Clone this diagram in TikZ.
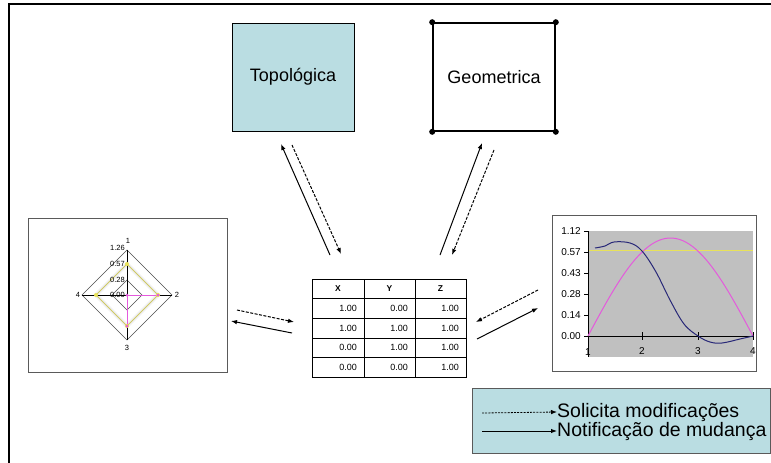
\documentclass[tikz,border=0pt]{standalone}
\usepackage{fontspec}
\setmainfont{Liberation Sans}
\usetikzlibrary{arrows.meta}
\definecolor{lblue}{RGB}{186,221,226}
\definecolor{navyc}{RGB}{40,40,120}
\definecolor{magc}{RGB}{228,90,220}
\definecolor{yelc}{RGB}{232,226,90}
\definecolor{plotgray}{RGB}{192,192,192}
\definecolor{framegray}{RGB}{90,90,90}
\tikzset{
  bigbox/.style={minimum width=122pt,minimum height=108pt,inner sep=0pt,font=\fontsize{18}{20}\selectfont},
  tip/.style={-{Latex[length=6pt,width=4.5pt]}},
  solidarr/.style={tip,line width=1pt},
  dasharr/.style={tip,line width=1pt,dash pattern=on 3pt off 1.5pt},
  cell/.style={font=\fontsize{9}{10}\selectfont,inner sep=0pt},
  small/.style={font=\fontsize{7.5}{8}\selectfont,inner sep=0pt},
  axlab/.style={font=\fontsize{10}{11}\selectfont,inner sep=0pt},
  ydot/.style={circle,fill=yelc,inner sep=0pt,minimum size=4pt},
  mdot/.style={circle,fill=magc,inner sep=0pt,minimum size=3pt},
  cdot/.style={circle,fill=black,inner sep=0pt,minimum size=6pt},
}
\begin{document}
\begin{tikzpicture}[x=1pt,y=-1pt]
\useasboundingbox (0,0) rectangle (771,463);
\fill[white] (0,0) rectangle (771,463);
% outer frame lines
\draw[line width=1.5pt] (9,463) -- (9,4) -- (771,4);

% top boxes
\node[bigbox,draw=black,line width=0.8pt,fill=lblue] (topo) at (293,77) {Topológica};
\node[bigbox,draw=black,line width=1.6pt] (geo) at (494,77) {Geometrica};
\foreach \c in {north west,north east,south west,south east}
  \node[cdot] at (geo.\c) {};

% left chart (radar)
\node[draw=framegray,line width=0.8pt,minimum width=199pt,minimum height=154pt,inner sep=0pt] (radar) at (127.5,295) {};
\coordinate (rc) at (127,295);
\draw[gray!10,line width=4pt] (127,264) -- (158,295) -- (127,326) -- (96,295) -- cycle;
\draw[black!70,line width=0.6pt] (127,250) -- (172,295) -- (127,340) -- (82,295) -- cycle;
\draw[black!70,line width=0.6pt] (127,264) -- (158,295) -- (127,326) -- (96,295) -- cycle;
\draw[black!70,line width=0.6pt] (127,280) -- (142,295) -- (127,310) -- (112,295) -- cycle;
\draw[black,line width=0.6pt] (82,295) -- (172,295);
\draw[black,line width=0.6pt] (127,250) -- (127,340);
\draw[yelc,line width=0.5pt] (127,264) -- (158,295) -- (127,326) -- (96,295) -- cycle;
\draw[magc,line width=0.8pt] (158,295) -- (rc) -- (127,326);
\node[ydot] at (127,264) {};
\node[ydot] at (158,295) {};
\node[ydot] at (127,326) {};
\node[ydot] at (96,295) {};
\node[mdot] at (rc) {};
\node[mdot] at (158,295) {};
\node[mdot] at (127,326) {};
\node[small] (r1) at (128,241) {1};
\node[small] (r2) at (177,295) {2};
\node[small] (r3) at (127,348) {3};
\node[small] (r4) at (78,295) {4};
\node[small,anchor=east] (s1) at (125,248) {1.26};
\node[small,anchor=east] (s2) at (125,264) {0.57};
\node[small,anchor=east] (s3) at (125,280) {0.28};
\node[small,anchor=east] (s4) at (125,295) {0.00};

% right chart
\node[draw=framegray,line width=0.8pt,minimum width=204pt,minimum height=156pt,inner sep=0pt] (curve) at (654,293) {};
\fill[plotgray] (588,231) rectangle (753,357);
\draw[yelc,line width=1pt] (588,250) -- (753,250);
\draw[black,line width=0.7pt] (588,231) -- (588,357);
\draw[black,line width=0.7pt] (588,336) -- (753,336);
\foreach \yy in {231,252,273,294,315,336} \draw[black,line width=0.6pt] (584,\yy) -- (588,\yy);
\foreach \xx in {642,698,753} \draw[black,line width=0.6pt] (\xx,332) -- (\xx,340);
\draw[magc,line width=1pt] plot[domain=0:1,samples=50] ({588+165*\x},{336-98*sin(180*\x)});
\draw[navyc,line width=1pt] plot[smooth,tension=0.6] coordinates {(595,248) (605,246) (614,242) (630,243) (642,251) (656,272) (670,300) (684,324) (698,336) (710,342) (722,343) (740,339) (753,336)};
\node[axlab,anchor=east] (y1) at (581,231) {1.12};
\node[axlab,anchor=east] (y2) at (581,252) {0.57};
\node[axlab,anchor=east] (y3) at (581,273) {0.43};
\node[axlab,anchor=east] (y4) at (581,294) {0.28};
\node[axlab,anchor=east] (y5) at (581,315) {0.14};
\node[axlab,anchor=east] (y6) at (581,336) {0.00};
\node[axlab] (x1) at (588,352) {1};
\node[axlab] (x2) at (642,351) {2};
\node[axlab] (x3) at (698,351) {3};
\node[axlab] (x4) at (753,351) {4};

% table
\node[draw=black,line width=0.7pt,minimum width=154pt,minimum height=98pt,inner sep=0pt] (tbl) at (389,328) {};
\foreach \yy in {298.6,318.2,337.8,357.4} \draw[line width=0.5pt] (312,\yy) -- (466,\yy);
\draw[line width=0.5pt] (364,279) -- (364,377);
\draw[line width=0.5pt] (415,279) -- (415,377);
\node[cell,font=\fontsize{8.5}{10}\selectfont\bfseries] (hx) at (338,289) {X};
\node[cell,font=\fontsize{8.5}{10}\selectfont\bfseries] (hy) at (389.5,289) {Y};
\node[cell,font=\fontsize{8.5}{10}\selectfont\bfseries] (hz) at (440.5,289) {Z};
\foreach \r/\a/\b/\c in {1/1.00/0.00/1.00, 2/1.00/1.00/1.00, 3/0.00/1.00/1.00, 4/0.00/0.00/1.00}{
  \node[cell,anchor=east] (c\r a) at (357,{289+19.6*\r}) {\a};
  \node[cell,anchor=east] (c\r b) at (408,{289+19.6*\r}) {\b};
  \node[cell,anchor=east] (c\r c) at (459,{289+19.6*\r}) {\c};
}

% arrows
\coordinate (ta1) at (330,255); \coordinate (ta2) at (281,144);
\coordinate (td1) at (292,145); \coordinate (td2) at (341,254);
\draw[solidarr] (ta1) -- (ta2);
\draw[dasharr] (td1) -- (td2);
\coordinate (ga1) at (440,255); \coordinate (ga2) at (482,143);
\coordinate (gd1) at (494,150); \coordinate (gd2) at (452,255);
\draw[solidarr] (ga1) -- (ga2);
\draw[dasharr] (gd1) -- (gd2);
\coordinate (ld1) at (237,310); \coordinate (ld2) at (294,322);
\coordinate (la1) at (292,333); \coordinate (la2) at (231,321);
\draw[dasharr] (ld1) -- (ld2);
\draw[solidarr] (la1) -- (la2);
\coordinate (rd1) at (538,290); \coordinate (rd2) at (476,322);
\coordinate (ra1) at (477,339); \coordinate (ra2) at (538,308);
\draw[dasharr] (rd1) -- (rd2);
\draw[solidarr] (ra1) -- (ra2);

% legend
\node[draw=framegray,line width=1pt,fill=lblue,minimum width=298pt,minimum height=65pt,inner sep=0pt] (leg) at (621,420.5) {};
\node[anchor=west,inner sep=0pt,font=\fontsize{19.5}{20}\selectfont] (l1) at (557,412) {Solicita modificações};
\node[anchor=west,inner sep=0pt,font=\fontsize{19.5}{20}\selectfont] (l2) at (557,431) {Notificação de mudança};
\draw[tip,line width=0.8pt,dash pattern=on 2pt off 1.2pt] (482,413) -- (l1.west);
\draw[tip,line width=1pt] (482,431) -- (l2.west);
\end{tikzpicture}
\end{document}
